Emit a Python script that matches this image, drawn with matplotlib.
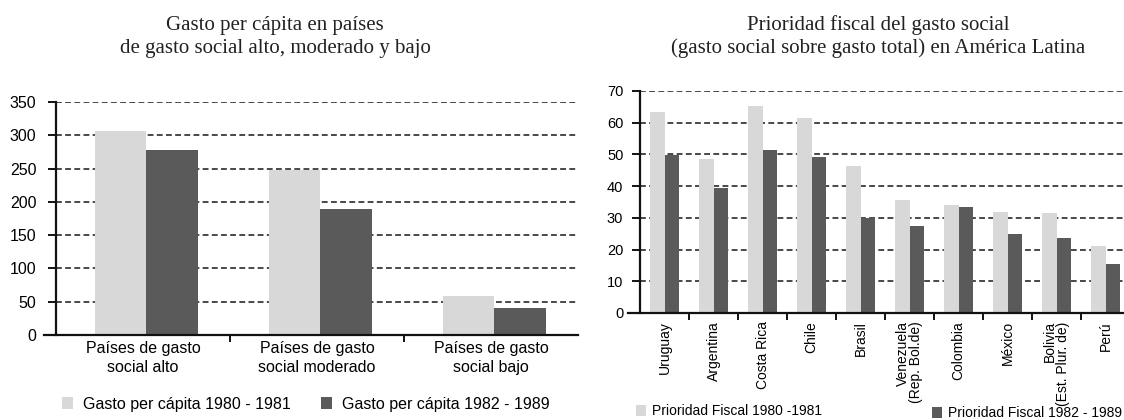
import matplotlib
matplotlib.use("Agg")
import matplotlib.pyplot as plt
import numpy as np

# ---- data ----
left_categories = ["Países de gasto\nsocial alto", "Países de gasto\nsocial moderado", "Países de gasto\nsocial bajo"]
left_1980_81 = [307, 248, 58]
left_1982_89 = [278, 190, 40]
left_labels = ["Gasto per cápita 1980 - 1981", "Gasto per cápita 1982 - 1989"]
left_yticks = [0, 50, 100, 150, 200, 250, 300, 350]

right_categories = ["Uruguay", "Argentina", "Costa Rica", "Chile", "Brasil",
                    "Venezuela\n(Rep. Bol.de)", "Colombia", "México",
                    "Bolivia\n(Est. Plur. de)", "Perú"]
right_1980_81 = [63.5, 48.5, 65.2, 61.5, 46.3, 35.7, 33.9, 31.8, 31.4, 21.1]
right_1982_89 = [49.9, 39.5, 51.4, 49.3, 30.1, 27.5, 33.5, 24.9, 23.7, 15.5]
right_labels = ["Prioridad Fiscal 1980 -1981", "Prioridad Fiscal 1982 - 1989"]
right_yticks = [0, 10, 20, 30, 40, 50, 60, 70]

title_left = ["Gasto per cápita en países", "de gasto social alto, moderado y bajo"]
title_right = ["Prioridad fiscal del gasto social", "(gasto social sobre gasto total) en América Latina"]

LIGHT = "#d8d8d8"
DARK = "#5a5a5a"
W, H = 1124, 420

fig = plt.figure(figsize=(W / 100, H / 100), dpi=100)
plt.rcParams['font.family'] = ['Liberation Sans', 'DejaVu Sans']


def style_axes(ax, n, ylim, yticks, fs):
    ax.set_xlim(-0.5, n - 0.5)
    ax.set_ylim(*ylim)
    ax.set_yticks(yticks)
    ax.set_axisbelow(True)
    ax.yaxis.grid(True, linestyle=(0, (3.5, 2)), color="#2a2a2a", linewidth=1.2)
    ax.xaxis.grid(False)
    for s in ("top", "right"):
        ax.spines[s].set_visible(False)
    for s in ("left", "bottom"):
        ax.spines[s].set_linewidth(1.6)
        ax.spines[s].set_color("#111111")
    ax.tick_params(axis="y", direction="out", length=6, width=1.4, labelsize=fs, pad=6, color="#111111")
    ax.set_xticks(np.arange(n))
    ax.set_xticks(np.arange(n - 1) + 0.5, minor=True)
    ax.tick_params(axis="x", which="major", length=0, labelsize=fs)
    ax.tick_params(axis="x", which="minor", direction="out", length=5, width=1.4, color="#111111")


# ---- left chart ----
ax1 = fig.add_axes([56 / W, 1 - 335 / H, 522 / W, 233 / H])
x1 = np.arange(len(left_categories))
bw = 0.295
b1 = ax1.bar(x1 - bw / 2 + 0.02, left_1980_81, bw, color=LIGHT, label=left_labels[0])
b2 = ax1.bar(x1 + bw / 2 + 0.02, left_1982_89, bw, color=DARK, label=left_labels[1])
style_axes(ax1, len(left_categories), (0, 350), left_yticks, 11.5)
ax1.spines["bottom"].set_bounds(-0.57, len(left_categories) - 0.5)
ax1.set_xticklabels(left_categories, fontsize=11.5, linespacing=1.35)
ax1.tick_params(axis="x", which="major", pad=4)
ax1.tick_params(axis="y", pad=8)

for line, y in zip(title_left, (30, 53)):
    fig.text(275 / W, 1 - y / H, line, ha="center", va="baseline",
             fontsize=15, family="Liberation Serif", color="#222222")

fig.legend([b1, b2], left_labels, loc="center left",
           bbox_to_anchor=(62 / W, 1 - 404 / H), ncol=2, frameon=False,
           fontsize=11.5, handlelength=0.7, handleheight=0.8,
           handletextpad=0.6, columnspacing=1.9, borderpad=0, borderaxespad=0)

# ---- right chart ----
ax2 = fig.add_axes([640 / W, 1 - 313 / H, 490 / W, 222 / H])
x2 = np.arange(len(right_categories))
bw2 = 0.29
c1 = ax2.bar(x2 - bw2 / 2, right_1980_81, bw2, color=LIGHT, label=right_labels[0])
c2 = ax2.bar(x2 + bw2 / 2, right_1982_89, bw2, color=DARK, label=right_labels[1])
style_axes(ax2, len(right_categories), (0, 70), right_yticks, 10.5)
ax2.spines["bottom"].set_bounds(-0.75, len(right_categories) - 0.5)
ax2.set_xticklabels(right_categories, rotation=90, ha="center", va="top",
                    fontsize=10, linespacing=0.95, multialignment="right")
ax2.tick_params(axis="x", which="major", pad=6)

for line, y in zip(title_right, (30, 53)):
    fig.text(878 / W, 1 - y / H, line, ha="center", va="baseline",
             fontsize=15, family="Liberation Serif", color="#222222")

fig.legend([c1], [right_labels[0]], loc="center left",
           bbox_to_anchor=(636 / W, 1 - 411 / H), frameon=False,
           fontsize=10, handlelength=0.75, handleheight=0.85,
           handletextpad=0.4, borderpad=0, borderaxespad=0)
fig.legend([c2], [right_labels[1]], loc="center left",
           bbox_to_anchor=(932 / W, 1 - 413 / H), frameon=False,
           fontsize=10, handlelength=0.75, handleheight=0.85,
           handletextpad=0.4, borderpad=0, borderaxespad=0)

fig.savefig("out.png", dpi=100)
